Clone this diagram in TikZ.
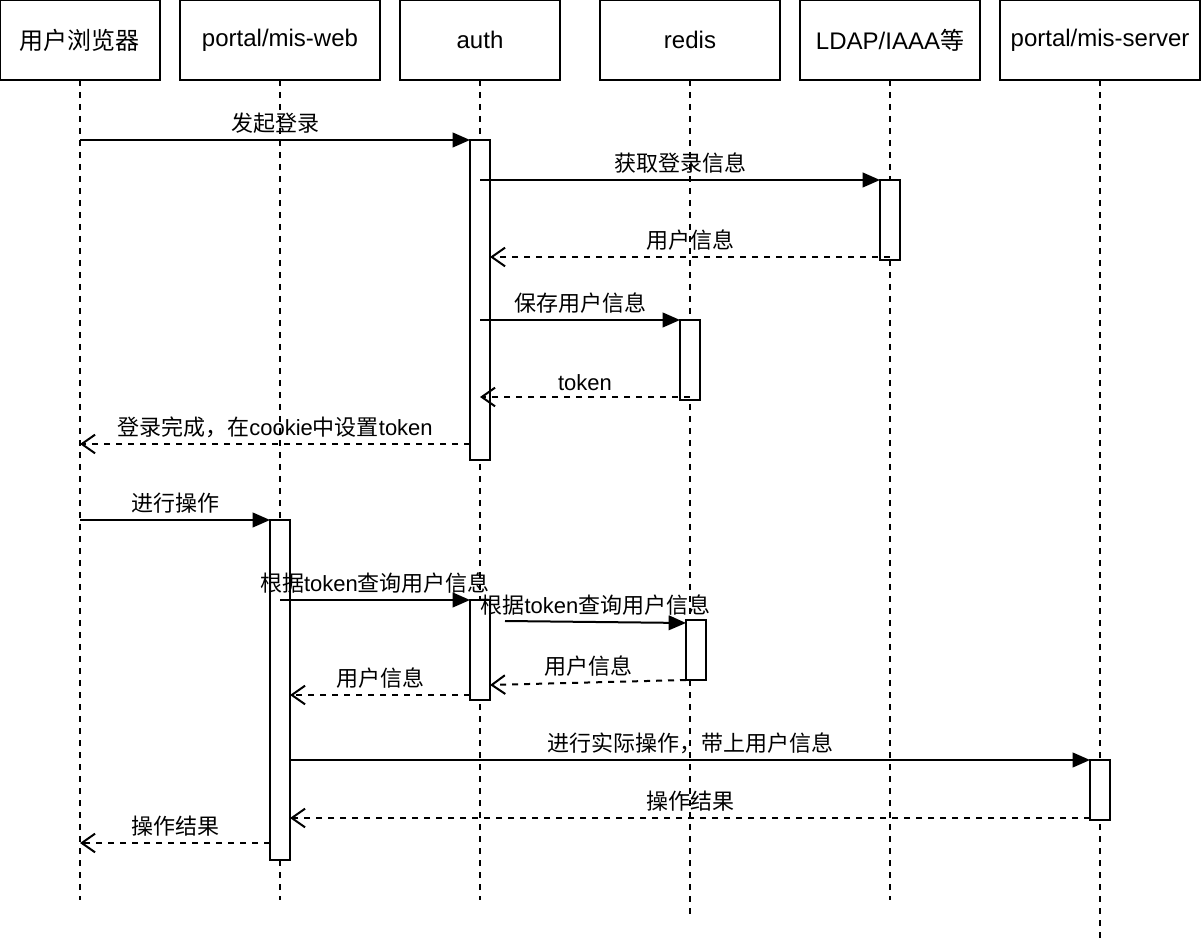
\documentclass[tikz,border=0pt]{standalone}
\usepackage{fontspec}
\setmainfont{Liberation Sans}
\newfontfamily\cjk{Noto Sans CJK SC}
\usetikzlibrary{arrows.meta,positioning}

\tikzset{
  head/.style={draw,line width=1.5pt,minimum height=60pt,inner sep=0pt,outer sep=0pt,font=\fontsize{18}{20}\selectfont},
  life/.style={line width=1.5pt,dash pattern=on 4.5pt off 4.5pt},
  act/.style={draw,fill=white,line width=1.5pt,minimum width=15pt,inner sep=0pt,outer sep=0pt},
  msg/.style={line width=1.5pt,-{Triangle[length=13pt,width=11pt]}},
  ret/.style={line width=1.5pt,dash pattern=on 4.5pt off 4.5pt,-{Straight Barb[length=10pt,width=14pt]}},
  lbl/.style={font=\fontsize{16.5}{18}\selectfont,inner sep=1pt,above=3pt}
}

\begin{document}
\begin{tikzpicture}[x=0.75pt,y=-0.75pt]
\useasboundingbox (0,0) rectangle (1204,944);
% participants
\node[head,minimum width=120pt] (browser) at (80,40) {\cjk 用户浏览器};
\node[head,minimum width=150pt,right=15pt of browser] (web) {portal/mis-web};
\node[head,minimum width=120pt,right=15pt of web] (auth) {auth};
\node[head,minimum width=135pt,right=30pt of auth] (redis) {redis};
\node[head,minimum width=135pt,right=15pt of redis] (ldap) {LDAP/IAAA{\cjk 等}};
\node[head,minimum width=150pt,right=15pt of ldap] (server) {portal/mis-server};
% lifelines
\coordinate (end1) at (0,900);
\coordinate (end2) at (0,915);
\coordinate (end3) at (0,940);
\foreach \n/\e in {browser/end1,web/end1,auth/end1,redis/end2,ldap/end1,server/end3}
  \draw[life] (\n.south) -- (\n |- \e);
% activations
\node[act,minimum height=240pt] (a1) at (480,300) {};
\node[act,minimum height=60pt] (l1) at (890,220) {};
\node[act,minimum height=60pt] (r1) at (690,360) {};
\node[act,minimum height=255pt] (w1) at (280,690) {};
\node[act,minimum height=75pt] (a2) at (480,650) {};
\node[act,minimum height=45pt] (r2) at (696,650) {};
\node[act,minimum height=45pt] (s1) at (1100,790) {};
% login
\draw[msg] (browser |- a1.north) -- (a1.north west) node[lbl,midway]{\cjk 发起登录};
\draw[msg] (auth |- l1.north) -- (l1.north west) node[lbl,midway]{\cjk 获取登录信息};
\coordinate (m3) at ([yshift=2.25pt]l1.south);
\draw[ret] (m3) -- (m3 -| a1.east) node[lbl,midway]{\cjk 用户信息};
\draw[msg] (auth |- r1.north) -- (r1.north west) node[lbl,midway]{\cjk 保存用户信息};
\coordinate (m5) at ([yshift=2.25pt]r1.south);
\draw[ret] (m5) -- (m5 -| auth) node[lbl,midway]{token};
\coordinate (m6) at ([yshift=12pt]a1.south west);
\draw[ret] (m6) -- (m6 -| browser) node[lbl,midway]{{\cjk 登录完成，在}cookie{\cjk 中设置}token};
% operation
\draw[msg] (browser |- w1.north) -- (w1.north west) node[lbl,midway]{\cjk 进行操作};
\draw[msg] (web |- a2.north) -- (a2.north west) node[lbl,midway]{{\cjk 根据}token{\cjk 查询用户信息}};
\draw[msg] ([xshift=11.25pt,yshift=-15.75pt]a2.north east) -- ([yshift=-2.25pt]r2.north west) node[lbl,midway]{{\cjk 根据}token{\cjk 查询用户信息}};
\draw[ret] (r2.south west) -- ([yshift=11.25pt]a2.south east) node[lbl,midway]{\cjk 用户信息};
\coordinate (m11) at ([yshift=3.75pt]a2.south west);
\draw[ret] (m11) -- (m11 -| w1.east) node[lbl,midway]{\cjk 用户信息};
\draw[msg] (w1.east |- s1.north) -- (s1.north west) node[lbl,midway]{\cjk 进行实际操作，带上用户信息};
\coordinate (m13) at ([yshift=1.5pt]s1.south west);
\draw[ret] (m13) -- (m13 -| w1.east) node[lbl,midway]{\cjk 操作结果};
\coordinate (m14) at ([yshift=12.75pt]w1.south west);
\draw[ret] (m14) -- (m14 -| browser) node[lbl,midway]{\cjk 操作结果};
\end{tikzpicture}
\end{document}
